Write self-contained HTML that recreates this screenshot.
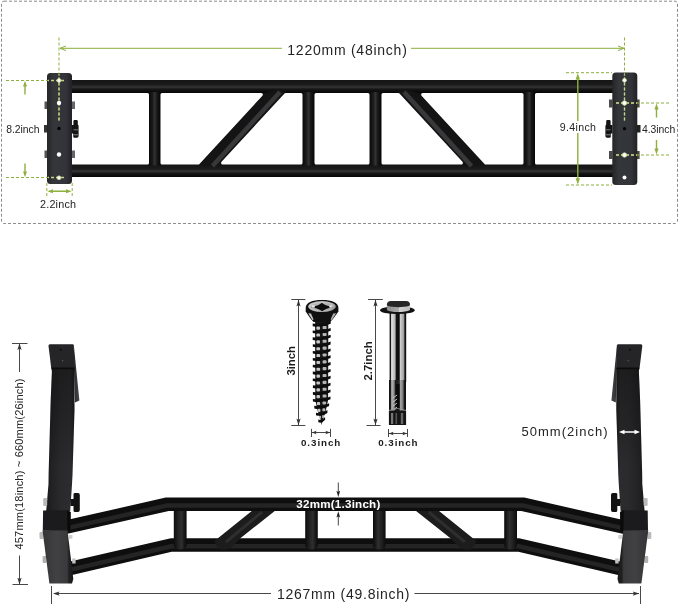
<!DOCTYPE html>
<html>
<head>
<meta charset="utf-8">
<title>Pull up bar dimensions</title>
<style>
html,body{margin:0;padding:0;background:#fff;}
body{width:679px;height:604px;overflow:hidden;font-family:"Liberation Sans",Arial,sans-serif;}
svg{display:block;will-change:transform;opacity:0.999;}
text{font-family:"Liberation Sans",Arial,sans-serif;fill:#242424;}
.b{font-weight:bold;fill:#1c1c1c;}
.g{stroke:#8db03e;fill:none;stroke-width:1;}
.gd{stroke:#8db03e;fill:none;stroke-width:1;stroke-dasharray:3 2;}
.k{stroke:#333;fill:none;stroke-width:0.9;}
</style>
</head>
<body>
<svg width="679" height="604" viewBox="0 0 679 604">
<defs>
  <linearGradient id="hb" x1="0" y1="0" x2="0" y2="1">
    <stop offset="0" stop-color="#141414"/>
    <stop offset="0.35" stop-color="#1b1b1c"/>
    <stop offset="0.55" stop-color="#343436"/>
    <stop offset="0.7" stop-color="#161616"/>
    <stop offset="1" stop-color="#050505"/>
  </linearGradient>
  <linearGradient id="vb" x1="0" y1="0" x2="1" y2="0">
    <stop offset="0" stop-color="#0a0a0a"/>
    <stop offset="0.3" stop-color="#1a1a1b"/>
    <stop offset="0.5" stop-color="#333335"/>
    <stop offset="0.7" stop-color="#171717"/>
    <stop offset="1" stop-color="#050505"/>
  </linearGradient>
  <linearGradient id="plate" x1="0" y1="0" x2="1" y2="0">
    <stop offset="0" stop-color="#252527"/>
    <stop offset="0.25" stop-color="#35363a"/>
    <stop offset="0.75" stop-color="#33343a"/>
    <stop offset="1" stop-color="#222224"/>
  </linearGradient>
</defs>
<rect x="0" y="0" width="679" height="604" fill="#ffffff"/>

<!-- ===== TOP SECTION ===== -->
<g id="top">
<rect x="1.5" y="1.2" width="676" height="222.3" rx="2.5" fill="none" stroke="#8c8c8c" stroke-width="1" stroke-dasharray="3 2"/>

<!-- bars -->
<rect x="70" y="80" width="544" height="97" fill="#121213"/>
<rect x="70" y="80" width="544" height="13" fill="url(#hb)"/>
<rect x="70" y="164.5" width="544" height="12.5" fill="url(#hb)"/>
<!-- struts -->
<rect x="149" y="92" width="11.5" height="73.5" fill="url(#vb)"/>
<rect x="302.5" y="92" width="12" height="73.5" fill="url(#vb)"/>
<rect x="369.5" y="92" width="12" height="73.5" fill="url(#vb)"/>
<rect x="523.5" y="92" width="11.5" height="73.5" fill="url(#vb)"/>
<!-- diagonals -->
<polygon points="199,166 219,166 286,92 280,89 265,93" fill="#141415"/>
<polygon points="485,166 465,166 398,92 404,89 419,93" fill="#141415"/>
<line x1="212.5" y1="166" x2="280" y2="92" stroke="#38383a" stroke-width="4.5"/>
<line x1="471.5" y1="166" x2="404" y2="92" stroke="#38383a" stroke-width="4.5"/>
<!-- openings -->
<g fill="#fff" stroke="#fff" stroke-width="3.2" stroke-linejoin="round">
<polygon points="67.6,94.6 147.4,94.6 147.4,162.9 67.6,162.9"/>
<polygon points="162.1,94.6 261.3,94.6 198.3,162.9 162.1,162.9"/>
<polygon points="285.7,94.6 300.9,94.6 300.9,162.9 222.7,162.9"/>
<polygon points="316.1,94.6 367.9,94.6 367.9,162.9 316.1,162.9"/>
<polygon points="398.3,94.6 383.1,94.6 383.1,162.9 461.3,162.9"/>
<polygon points="521.9,94.6 422.7,94.6 485.7,162.9 521.9,162.9"/>
<polygon points="536.6,94.6 616.4,94.6 616.4,162.9 536.6,162.9"/>
</g>

<!-- plates -->
<rect x="44.5" y="101.5" width="3" height="7.5" fill="#555"/>
<rect x="44" y="125" width="3.5" height="7.5" fill="#333"/>
<rect x="44.5" y="150.5" width="3" height="7.5" fill="#555"/>
<rect x="72" y="101.5" width="3" height="7.5" fill="#666"/>
<rect x="72" y="150.5" width="3" height="7.5" fill="#666"/>
<path d="M71.5 125 H73.4 V121.2 Q73.4 120 74.6 120 H76.6 Q77.8 120 77.8 121.2 V124.5 Q78.6 125 78.6 126.5 V136 Q78.6 137.8 77 137.8 H74.4 Q73.2 137.8 73.2 136.4 V133.5 H71.5 Z" fill="#141414"/><rect x="73.5" y="129.3" width="4.5" height="1" fill="#777"/><rect x="73.5" y="134.3" width="4.5" height="1" fill="#888"/>
<rect x="47" y="73" width="25" height="111" rx="3.5" fill="url(#plate)"/>

<rect x="609" y="99.5" width="3.5" height="8" fill="#4a4a4a"/>
<rect x="609" y="151" width="3.5" height="8" fill="#4a4a4a"/>
<rect x="637" y="99.5" width="2.6" height="8" fill="#4a4a3a"/>
<rect x="637" y="151" width="2.6" height="8" fill="#4a4a3a"/>
<rect x="637" y="125" width="3.5" height="7.5" fill="#222"/>
<path d="M612.5 125 H610.6 V121.2 Q610.6 120 609.4 120 H607.4 Q606.2 120 606.2 121.2 V124.5 Q605.4 125 605.4 126.5 V136 Q605.4 137.8 607 137.8 H609.6 Q610.8 137.8 610.8 136.4 V133.5 H612.5 Z" fill="#141414"/><rect x="606" y="129.3" width="4.5" height="1" fill="#777"/><rect x="606" y="134.3" width="4.5" height="1" fill="#888"/>
<rect x="612.3" y="72.5" width="25" height="112.5" rx="3.5" fill="url(#plate)"/>

<!-- green guides left -->
<line class="gd" x1="59" y1="37.5" x2="59" y2="122"/>
<line class="gd" x1="6" y1="80.5" x2="66" y2="80.5"/>
<line class="gd" x1="6" y1="177.5" x2="66" y2="177.5"/>
<line class="gd" x1="46.8" y1="183" x2="46.8" y2="197"/>
<line class="gd" x1="72.2" y1="183" x2="72.2" y2="197"/>
<g stroke="#c3d389" stroke-width="1.4" stroke-dasharray="3 2" stroke-dashoffset="2" fill="none">
<line x1="59" y1="74.5" x2="59" y2="122"/><line x1="48" y1="80.5" x2="66" y2="80.5"/><line x1="48" y1="177.5" x2="66" y2="177.5"/>
</g>
<!-- holes left -->
<circle cx="59" cy="80.5" r="1.9" fill="#fff" stroke="#c9dc9a" stroke-width="0.8"/>
<circle cx="59" cy="103" r="2.2" fill="#fff"/>
<circle cx="59" cy="128.5" r="1.7" fill="#000"/>
<circle cx="59" cy="154.5" r="2.2" fill="#fff"/>
<circle cx="59" cy="177.8" r="1.9" fill="#fff" stroke="#c9dc9a" stroke-width="0.8"/>
<!-- 8.2 arrows -->
<path d="M25 80.8 L27 86.5 L25.7 86.5 L25.7 94.5 L24.3 94.5 L24.3 86.5 L23 86.5 Z" fill="#8db03e"/>
<path d="M25 177.3 L27 171.6 L25.7 171.6 L25.7 163.5 L24.3 163.5 L24.3 171.6 L23 171.6 Z" fill="#8db03e"/>
<!-- 2.2 arrows -->
<path d="M47.3 191.3 L53 189.3 L53 190.6 L66 190.6 L66 189.3 L71.7 191.3 L66 193.3 L66 192 L53 192 L53 193.3 Z" fill="#8db03e"/>
<!-- top arrow line -->
<path class="g" d="M60 48.3 H282 M66 46 L60 48.3 L66 50.6"/>
<path class="g" d="M411 48.3 H624 M618 46 L624 48.3 L618 50.6"/>

<!-- green guides right -->
<line class="gd" x1="624.5" y1="37.5" x2="624.5" y2="122"/>
<line class="gd" x1="566" y1="72.7" x2="612" y2="72.7"/>
<line class="gd" x1="566" y1="185" x2="612" y2="185"/>
<line class="gd" x1="616" y1="103" x2="669" y2="103"/>
<line class="gd" x1="616" y1="155" x2="669" y2="155"/>
<path d="M577.8 73.2 L580 79.5 L578.5 79.5 L578.5 178.2 L580 178.2 L577.8 184.5 L575.6 178.2 L577.1 178.2 L577.1 79.5 L575.6 79.5 Z" fill="#8db03e"/>
<path d="M656.5 103.5 L658.6 109.5 L657.2 109.5 L657.2 117.5 L655.8 117.5 L655.8 109.5 L654.4 109.5 Z" fill="#8db03e"/>
<path d="M656.5 154.5 L658.6 148.5 L657.2 148.5 L657.2 140 L655.8 140 L655.8 148.5 L654.4 148.5 Z" fill="#8db03e"/>
<g stroke="#c3d389" stroke-width="1.4" stroke-dasharray="3 2" fill="none">
<line x1="624.5" y1="74.5" x2="624.5" y2="122" stroke-dashoffset="2"/><line x1="616" y1="103" x2="637" y2="103"/><line x1="616" y1="155" x2="637" y2="155"/>
</g>
<!-- holes right -->
<circle cx="624.5" cy="80.3" r="1.9" fill="#fff" stroke="#c9dc9a" stroke-width="0.8"/>
<circle cx="624.5" cy="103" r="2.2" fill="#fff" stroke="#c9dc9a" stroke-width="0.8"/>
<circle cx="624.5" cy="128.7" r="1.6" fill="#000"/>
<circle cx="624.5" cy="155" r="2.2" fill="#fff" stroke="#c9dc9a" stroke-width="0.8"/>
<circle cx="624.5" cy="177.5" r="2" fill="#fff"/>

<!-- labels -->
<text x="287.3" y="54.8" font-size="14" textLength="119.5" lengthAdjust="spacing">1220mm (48inch)</text>
<text x="6.3" y="132.5" font-size="10.4" textLength="33.2" lengthAdjust="spacing">8.2inch</text>
<text x="40" y="207.5" font-size="10.8" textLength="36" lengthAdjust="spacing">2.2inch</text>
<rect x="558" y="121" width="40" height="12" fill="#fff"/>
<text x="559.8" y="130.6" font-size="10.6" textLength="36.2" lengthAdjust="spacing">9.4inch</text>
<text x="642" y="132.5" font-size="10.4" textLength="33.3" lengthAdjust="spacing">4.3inch</text>
</g>

<!-- ===== SCREWS ===== -->
<g id="screws">
<defs>
  <linearGradient id="bolt" x1="0" y1="0" x2="1" y2="0">
    <stop offset="0" stop-color="#111"/>
    <stop offset="0.07" stop-color="#1c1c1c"/>
    <stop offset="0.12" stop-color="#e6e6e6"/>
    <stop offset="0.33" stop-color="#b4b4b4"/>
    <stop offset="0.4" stop-color="#141414"/>
    <stop offset="0.58" stop-color="#0c0c0c"/>
    <stop offset="0.64" stop-color="#d2d2d2"/>
    <stop offset="0.85" stop-color="#9c9c9c"/>
    <stop offset="0.92" stop-color="#1a1a1a"/>
    <stop offset="1" stop-color="#0a0a0a"/>
  </linearGradient>
  <linearGradient id="boltlo" x1="0" y1="0" x2="1" y2="0">
    <stop offset="0" stop-color="#0c0c0c"/>
    <stop offset="0.1" stop-color="#222"/>
    <stop offset="0.16" stop-color="#b8b8b8"/>
    <stop offset="0.3" stop-color="#8a8a8a"/>
    <stop offset="0.38" stop-color="#1a1a1a"/>
    <stop offset="0.6" stop-color="#222"/>
    <stop offset="0.68" stop-color="#a5a5a5"/>
    <stop offset="0.82" stop-color="#777"/>
    <stop offset="0.9" stop-color="#1a1a1a"/>
    <stop offset="1" stop-color="#080808"/>
  </linearGradient>
  <linearGradient id="hexs" x1="0" y1="0" x2="1" y2="0">
    <stop offset="0" stop-color="#8d8d8d"/>
    <stop offset="0.5" stop-color="#a8a8a8"/>
    <stop offset="0.52" stop-color="#d2d2d2"/>
    <stop offset="1" stop-color="#bdbdbd"/>
  </linearGradient>
  <radialGradient id="shead" cx="0.4" cy="0.45" r="0.7">
    <stop offset="0" stop-color="#e4e4e4"/>
    <stop offset="0.7" stop-color="#b8b8b8"/>
    <stop offset="1" stop-color="#6a6a6a"/>
  </radialGradient>
</defs>
<!-- wood screw -->
<polygon points="315.1,319.0 315.3,400.0 317.7,411.0 320.7,420.0 321.7,425.2 321.7,425.2 322.7,420.0 325.7,411.0 328.1,400.0 328.3,319.0" fill="#161616"/>
<path d="M312.7 323.6 Q321.7 325.2 330.7 321.0 L330.7 323.8 Q321.7 328.0 312.7 326.2 Z" fill="#0d0d0d"/>
<rect x="316.4" y="326.6" width="3.6" height="3.1" rx="0.9" fill="#c6c6c6"/>
<rect x="322.6" y="326.0" width="4.0" height="3.1" rx="0.9" fill="#b4b4b4"/>
<path d="M312.7 330.5 Q321.7 332.1 330.7 327.9 L330.7 330.7 Q321.7 334.9 312.7 333.1 Z" fill="#0d0d0d"/>
<rect x="316.4" y="333.5" width="3.6" height="3.1" rx="0.9" fill="#c6c6c6"/>
<rect x="322.6" y="332.9" width="4.0" height="3.1" rx="0.9" fill="#b4b4b4"/>
<path d="M312.7 337.3 Q321.7 338.9 330.7 334.7 L330.7 337.5 Q321.7 341.7 312.7 339.9 Z" fill="#0d0d0d"/>
<rect x="316.4" y="340.3" width="3.6" height="3.1" rx="0.9" fill="#c6c6c6"/>
<rect x="322.6" y="339.7" width="4.0" height="3.1" rx="0.9" fill="#b4b4b4"/>
<path d="M312.8 344.2 Q321.7 345.8 330.6 341.6 L330.6 344.4 Q321.7 348.6 312.8 346.8 Z" fill="#0d0d0d"/>
<rect x="316.4" y="347.2" width="3.6" height="3.1" rx="0.9" fill="#c6c6c6"/>
<rect x="322.6" y="346.6" width="4.0" height="3.1" rx="0.9" fill="#b4b4b4"/>
<path d="M312.8 351.0 Q321.7 352.6 330.6 348.4 L330.6 351.2 Q321.7 355.4 312.8 353.6 Z" fill="#0d0d0d"/>
<rect x="316.5" y="354.0" width="3.6" height="3.1" rx="0.9" fill="#c6c6c6"/>
<rect x="322.6" y="353.4" width="4.0" height="3.1" rx="0.9" fill="#b4b4b4"/>
<path d="M312.8 357.9 Q321.7 359.5 330.6 355.3 L330.6 358.1 Q321.7 362.3 312.8 360.5 Z" fill="#0d0d0d"/>
<rect x="316.5" y="360.9" width="3.6" height="3.1" rx="0.9" fill="#c6c6c6"/>
<rect x="322.6" y="360.3" width="4.0" height="3.1" rx="0.9" fill="#b4b4b4"/>
<path d="M312.8 364.7 Q321.7 366.3 330.6 362.1 L330.6 364.9 Q321.7 369.1 312.8 367.3 Z" fill="#0d0d0d"/>
<rect x="316.5" y="367.7" width="3.6" height="3.1" rx="0.9" fill="#c6c6c6"/>
<rect x="322.6" y="367.1" width="3.9" height="3.1" rx="0.9" fill="#b4b4b4"/>
<path d="M312.8 371.6 Q321.7 373.2 330.6 369.0 L330.6 371.8 Q321.7 376.0 312.8 374.2 Z" fill="#0d0d0d"/>
<rect x="316.5" y="374.6" width="3.5" height="3.1" rx="0.9" fill="#c6c6c6"/>
<rect x="322.6" y="374.0" width="3.9" height="3.1" rx="0.9" fill="#b4b4b4"/>
<path d="M312.8 378.4 Q321.7 380.0 330.6 375.8 L330.6 378.6 Q321.7 382.8 312.8 381.0 Z" fill="#0d0d0d"/>
<rect x="316.5" y="381.4" width="3.5" height="3.1" rx="0.9" fill="#c6c6c6"/>
<rect x="322.6" y="380.8" width="3.9" height="3.1" rx="0.9" fill="#b4b4b4"/>
<path d="M312.9 385.3 Q321.7 386.9 330.5 382.7 L330.5 385.5 Q321.7 389.7 312.9 387.9 Z" fill="#0d0d0d"/>
<rect x="316.5" y="388.3" width="3.5" height="3.1" rx="0.9" fill="#c6c6c6"/>
<rect x="322.6" y="387.7" width="3.9" height="3.1" rx="0.9" fill="#b4b4b4"/>
<path d="M312.9 392.1 Q321.7 393.7 330.5 389.5 L330.5 392.3 Q321.7 396.5 312.9 394.7 Z" fill="#0d0d0d"/>
<rect x="316.5" y="395.1" width="3.5" height="3.1" rx="0.9" fill="#c6c6c6"/>
<rect x="322.6" y="394.5" width="3.9" height="3.1" rx="0.9" fill="#b4b4b4"/>
<path d="M312.9 399.0 Q321.7 400.6 330.5 396.4 L330.5 399.2 Q321.7 403.4 312.9 401.6 Z" fill="#0d0d0d"/>
<rect x="316.9" y="402.0" width="3.2" height="3.1" rx="0.9" fill="#c6c6c6"/>
<rect x="322.5" y="401.4" width="3.6" height="3.1" rx="0.9" fill="#b4b4b4"/>
<path d="M314.3 405.8 Q321.7 407.4 329.1 403.2 L329.1 406.0 Q321.7 410.2 314.3 408.4 Z" fill="#0d0d0d"/>
<rect x="317.8" y="408.8" width="2.6" height="3.1" rx="0.9" fill="#c6c6c6"/>
<rect x="322.4" y="408.2" width="2.9" height="3.1" rx="0.9" fill="#b4b4b4"/>
<path d="M316.0 412.7 Q321.7 414.3 327.4 410.1 L327.4 412.9 Q321.7 417.1 316.0 415.3 Z" fill="#0d0d0d"/>
<rect x="319.1" y="415.7" width="1.8" height="3.1" rx="0.9" fill="#c6c6c6"/>
<rect x="322.1" y="415.1" width="1.9" height="3.1" rx="0.9" fill="#b4b4b4"/>
<path d="M318.3 419.5 Q321.7 421.1 325.1 416.9 L325.1 419.7 Q321.7 423.9 318.3 422.1 Z" fill="#0d0d0d"/>
<!-- head -->
<path d="M305.7 308 C305.7 302.5 312 300 322 300 C332 300 338.4 302.5 338.4 308 L338.4 311.5 L333 319 L330 322 L313.6 322 L310.8 319 L305.7 311.5 Z" fill="#101010"/>
<ellipse cx="322" cy="306.6" rx="13.8" ry="5.5" fill="url(#shead)"/>
<ellipse cx="322" cy="306.8" rx="11" ry="3.9" fill="#9c9c9c" opacity="0.55"/>
<path d="M310.5 306.9 Q318.5 306 321.8 302.8 Q325.5 306 333.5 306.9 Q325.5 308.2 322.2 311.2 Q318.5 308.2 310.5 306.9 Z" fill="#0c0c0c"/>
<ellipse cx="313.3" cy="306.5" rx="1.7" ry="1.2" fill="#e6e6e6"/>
<ellipse cx="330.8" cy="306.5" rx="1.7" ry="1.2" fill="#e0e0e0"/>
<path d="M308.2 313.2 L311 313.6 L313.6 319.6 L312.4 320 Z" fill="#c8c8c8"/>
<path d="M336 313.2 L333.2 313.6 L330.6 319.6 L331.8 320 Z" fill="#b0b0b0"/>
<!-- dims for wood screw -->
<path class="k" d="M291.3 299.5 H305.4 M291.3 425.5 H305.4 M298.5 300 V425"/>
<path d="M298.5 299.8 L300.6 306.4 L298.5 305 L296.4 306.4 Z" fill="#333"/>
<path d="M298.5 425.2 L300.6 418.6 L298.5 420 L296.4 418.6 Z" fill="#333"/>
<text class="b" transform="translate(294.6,375.6) rotate(-90)" font-size="11.4" textLength="29.6" lengthAdjust="spacing">3inch</text>
<path class="k" d="M311.5 428.8 V437 M330.5 428.8 V437 M312 432.5 H330"/>
<path d="M311.8 432.5 L316.6 430.7 L315.6 432.5 L316.6 434.3 Z" fill="#333"/>
<path d="M330.2 432.5 L325.4 430.7 L326.4 432.5 L325.4 434.3 Z" fill="#333"/>
<text class="b" x="301" y="446" font-size="9.8" textLength="39.3" lengthAdjust="spacing">0.3inch</text>

<!-- anchor bolt -->
<rect x="389.6" y="312" width="16.6" height="70" fill="url(#bolt)"/>
<rect x="389" y="380" width="17" height="45" fill="url(#boltlo)"/>
<path d="M396 384 L399.5 384 L399.5 410 L396 410 Z" fill="#0a0a0a"/>
<path d="M393.2 398 L397 395 M393.2 402 L397 399 M393.2 406 L397 403 M393.2 410 L397 407" stroke="#ddd" stroke-width="0.9"/>
<rect x="388.9" y="410.5" width="17.2" height="14.5" fill="#151515"/>
<rect x="391" y="413" width="2.2" height="11" fill="#777"/>
<rect x="395.5" y="413" width="1.6" height="11" fill="#555"/>
<rect x="400.8" y="413" width="2.4" height="11" fill="#666"/>
<path d="M389 410.5 L397.5 408.5 L406 410.5" stroke="#999" stroke-width="0.9" fill="none"/>
<ellipse cx="397.4" cy="310.2" rx="17.4" ry="3.9" fill="#121212"/>
<path d="M386.9 304 L410 304 L410 310 Q406 312 398 312 Q390 312 386.9 310 Z" fill="url(#hexs)"/>
<path d="M386.9 304.5 Q387 301 391 301 L406 301 Q410 301 410 304.5 Q410 306.6 404 306.8 L398.5 307.2 L392.5 306.8 Q386.9 306.6 386.9 304.5 Z" fill="#262626"/>
<!-- dims for bolt -->
<path class="k" d="M368 299.5 H382.8 M366.5 425.5 H380.5 M375.5 300 V425"/>
<path d="M375.5 299.8 L377.6 306.4 L375.5 305 L373.4 306.4 Z" fill="#333"/>
<path d="M375.5 425.2 L377.6 418.6 L375.5 420 L373.4 418.6 Z" fill="#333"/>
<text class="b" transform="translate(372,380.6) rotate(-90)" font-size="11.4" textLength="39.4" lengthAdjust="spacing">2.7inch</text>
<path class="k" d="M388.5 429 V437 M407.5 429 V437 M389 433.5 H407"/>
<path d="M388.8 433.5 L393.6 431.7 L392.6 433.5 L393.6 435.3 Z" fill="#333"/>
<path d="M407.2 433.5 L402.4 431.7 L403.4 433.5 L402.4 435.3 Z" fill="#333"/>
<text class="b" x="378.2" y="446" font-size="9.8" textLength="39.4" lengthAdjust="spacing">0.3inch</text>
</g>

<!-- ===== BOTTOM SECTION ===== -->
<g id="bottom">
<defs>
  <linearGradient id="postg" x1="0" y1="0" x2="1" y2="0">
    <stop offset="0" stop-color="#18181a"/>
    <stop offset="0.2" stop-color="#222224"/>
    <stop offset="0.55" stop-color="#2a2a2c"/>
    <stop offset="0.85" stop-color="#2c2c2e"/>
    <stop offset="1" stop-color="#1d1d1f"/>
  </linearGradient>
  <linearGradient id="footg" x1="0" y1="0" x2="1" y2="0">
    <stop offset="0" stop-color="#343436"/>
    <stop offset="0.45" stop-color="#414143"/>
    <stop offset="0.8" stop-color="#3a3a3c"/>
    <stop offset="0.86" stop-color="#202022"/>
    <stop offset="1" stop-color="#1a1a1b"/>
  </linearGradient>
  <linearGradient id="postv" x1="0" y1="0" x2="0" y2="1">
    <stop offset="0" stop-color="#000" stop-opacity="0.32"/>
    <stop offset="0.35" stop-color="#000" stop-opacity="0.18"/>
    <stop offset="0.7" stop-color="#000" stop-opacity="0"/>
  </linearGradient>
  <linearGradient id="flapg" x1="0" y1="0" x2="1" y2="0">
    <stop offset="0" stop-color="#2a2a2c"/>
    <stop offset="1" stop-color="#48484b"/>
  </linearGradient>
  <linearGradient id="vs" x1="0" y1="0" x2="1" y2="0">
    <stop offset="0" stop-color="#0c0c0c"/>
    <stop offset="0.35" stop-color="#222223"/>
    <stop offset="0.6" stop-color="#2f2f31"/>
    <stop offset="0.8" stop-color="#1a1a1b"/>
    <stop offset="1" stop-color="#0a0a0a"/>
  </linearGradient>
  <g id="halfS">
    <!-- strut 1 and diagonal -->
    <path d="M173.8 509 H186.6 V545 Q186.6 549.5 180.2 549.5 Q173.8 549.5 173.8 545 Z" fill="url(#vs)"/>
    <path d="M305.2 509 H317.8 V545 Q317.8 549.5 311.5 549.5 Q305.2 549.5 305.2 545 Z" fill="url(#vs)"/>
    <path d="M253 510 L276 510 L240 538.5 L230 548.5 Q223 551 218 548.5 L214.5 541 Z" fill="#1c1c1d"/>
    <path d="M262 512 L226 542" stroke="#2e2e30" stroke-width="3" fill="none"/>
  </g>
  <g id="halfL">
    <!-- post -->
    <path d="M73.75 344.5 L79.4 400.6 L75 402.5 L74 369 Z" fill="url(#flapg)"/>
    <path d="M51.6 368.5 L74.4 368.5 L74.5 410 L72.5 475 L71.9 486 L70.2 511 L46.2 511 L48.5 484 L48.6 474 L50.7 400 L51.9 372 Z" fill="url(#postg)"/>
    <path d="M51.6 368.5 L74.4 368.5 L74.5 410 L72.5 475 L71.9 486 L70.2 511 L46.2 511 L48.5 484 L48.6 474 L50.7 400 L51.9 372 Z" fill="url(#postv)"/>
    <path d="M50 344.3 H72.5 Q73.8 344.3 73.85 345.6 L74.4 368.8 L51.3 368.8 L48.5 346 Q48.3 344.3 50 344.3 Z" fill="#252527"/>
    <path d="M51.5 367.5 L74.4 367.5 L74.4 369.2 L51.6 369.2 Z" fill="#0c0c0c"/>
    <circle cx="60.8" cy="349.8" r="1" fill="#0a0a0a"/>
    <circle cx="62.6" cy="360.8" r="0.8" fill="#555"/>
    <!-- bolts -->
    <rect x="43.2" y="498" width="4" height="8" rx="1.2" fill="#b9b9b9"/>
    <rect x="39.5" y="532" width="4" height="7" rx="1.2" fill="#b9b9b9"/>
    <rect x="42.6" y="556" width="4" height="7" rx="1.2" fill="#b0b0b0"/>
    <rect x="68.8" y="535" width="3.6" height="3.8" fill="#d0d0d0"/>
    <rect x="72.2" y="558.5" width="3.4" height="5" fill="#c4c4c4"/>
    <!-- knob -->
    <path d="M70.5 499 H73.5 V494.3 Q73.5 493 75 493 H78 Q79.8 493 79.8 495 V510 Q79.8 512 78 512 H75 Q73.5 512 73.5 510.5 V506 H70.5 Z" fill="#121212"/>
    <!-- sleeve -->
    <path d="M43.1 510.6 L67.2 510.2 L70.6 512 L70.4 531.5 L42.8 530.8 Z" fill="#1b1b1d"/>
    <path d="M67.2 510.2 L70.6 512 L70.4 531.5 L67.4 531 Z" fill="#0a0a0a"/>
    <!-- foot plate -->
    <path d="M42.5 530.2 L67.5 530.6 L73.3 579 L72 583.6 L49.4 583.6 Z" fill="url(#footg)"/>
  </g>
</defs>

<!-- bars -->
<polyline points="66.2,569.4 171.25,545 518.75,545 623.8,569.4" fill="none" stroke="#0e0e0e" stroke-width="13.6" stroke-linejoin="round"/>
<polyline points="66.3,570.6 171.5,546.2 518.5,546.2 623.7,570.6" fill="none" stroke="#242425" stroke-width="4.5" stroke-linejoin="round"/>
<use href="#halfS"/>
<use href="#halfS" transform="translate(690.8,0) scale(-1,1)"/>
<polyline points="61.5,528.2 167.25,504.25 522.75,504.25 628.5,528.2" fill="none" stroke="#0e0e0e" stroke-width="13.6" stroke-linejoin="round"/>
<polyline points="61.8,529.4 167.5,505.4 522.5,505.4 628.2,529.4" fill="none" stroke="#242425" stroke-width="4.5" stroke-linejoin="round"/>
<use href="#halfL"/>
<use href="#halfL" transform="translate(690.8,0) scale(-1,1)"/>

<!-- dimension: height -->
<path class="k" d="M12 343.5 H27.5 M12.5 584.5 H28 M19.5 344 V372 M19.5 555.5 V584"/>
<path d="M19.5 343.3 L21.6 350 L19.5 348.6 L17.4 350 Z" fill="#333"/>
<path d="M19.5 584.4 L21.6 577.7 L19.5 579.1 L17.4 577.7 Z" fill="#333"/>
<text transform="translate(22.5,549.5) rotate(-90)" font-size="11" textLength="171" lengthAdjust="spacing">457mm(18inch) ~ 660mm(26inch)</text>
<!-- dimension: width -->
<path class="k" d="M51.5 586 V604 M640.5 586 V604 M54 593.5 H271 M414.5 593.5 H639"/>
<path d="M53 593.6 L59.6 591.5 L58.2 593.6 L59.6 595.7 Z" fill="#333"/>
<path d="M639.3 593.6 L632.7 591.5 L634.1 593.6 L632.7 595.7 Z" fill="#333"/>
<text x="277" y="598.7" font-size="14" textLength="132.5" lengthAdjust="spacing">1267mm (49.8inch)</text>
<!-- 50mm -->
<text x="521.5" y="436.3" font-size="13" textLength="86" lengthAdjust="spacing">50mm(2inch)</text>
<path d="M619 432 L624.5 429.8 L624.5 431.3 L634.5 431.3 L634.5 429.8 L640 432 L634.5 434.2 L634.5 432.7 L624.5 432.7 L624.5 434.2 Z" fill="#fff"/>
<!-- 32mm -->
<path class="k" d="M338.3 482.5 V494 M338.3 514 V525.5" stroke="#222"/>
<path d="M338.3 497 L340.2 490.8 L338.3 492 L336.4 490.8 Z" fill="#222"/>
<path d="M338.3 511.3 L340.2 517.5 L338.3 516.3 L336.4 517.5 Z" fill="#222"/>
<text class="b" x="296.3" y="507.6" font-size="11.6" textLength="84" lengthAdjust="spacing" style="fill:#fff">32mm(1.3inch)</text>
</g>

</svg>
</body>
</html>
